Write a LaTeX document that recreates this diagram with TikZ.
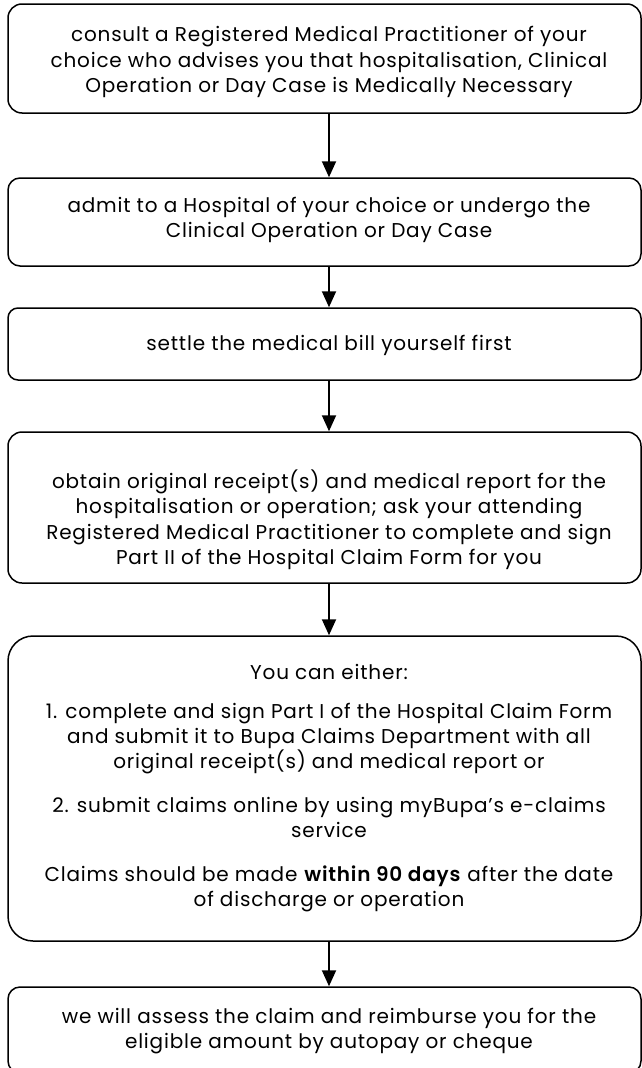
\documentclass[tikz,border=0pt]{standalone}
\usepackage{fontspec}
\setmainfont{Poppins}[LetterSpace=4, BoldFont=* SemiBold]
\usetikzlibrary{arrows.meta}
\begin{document}
\begin{tikzpicture}[x=1pt,y=-1pt,
  stepbox/.style={draw=black, line width=1.5pt, fill=white, inner sep=0pt, minimum width=633pt},
  txt/.style={align=center, font=\fontsize{20}{25.5}\selectfont, inner sep=0pt},
  flow/.style={-{Triangle[width=14pt,length=16pt]}, line width=2pt}
]
\useasboundingbox (0,0) rectangle (642,1068);

% step boxes
\node[stepbox, rounded corners=14pt, minimum height=109pt] (b1) at (324.5,58.5) {};
\node[stepbox, rounded corners=12pt, minimum height=88pt]  (b2) at (324.5,222) {};
\node[stepbox, rounded corners=10pt, minimum height=72pt]  (b3) at (324.5,344) {};
\node[stepbox, rounded corners=14pt, minimum height=151pt] (b4) at (324.5,507.5) {};
\node[stepbox, rounded corners=25pt, minimum height=305pt] (b5) at (324.5,788.5) {};
\node[stepbox, rounded corners=12pt, minimum height=86pt]  (b6) at (324.5,1030) {};

% step texts
\node[txt] (t1) at (329,62) {consult a Registered Medical Practitioner of your\\
  choice who advises you that hospitalisation, Clinical\\
  Operation or Day Case is Medically Necessary};
\node[txt] (t2) at (329,220) {admit to a Hospital of your choice or undergo the\\
  Clinical Operation or Day Case};
\node[txt] (t3) at (329,345) {settle the medical bill yourself first};
\node[txt] (t4) at (329,520) {obtain original receipt(s) and medical report for the\\
  hospitalisation or operation; ask your attending\\
  Registered Medical Practitioner to complete and sign\\
  Part II of the Hospital Claim Form for you};
\node[txt, font=\fontsize{20}{25}\selectfont] (t5) at (329,788) {You can either:\\[14pt]
  1. complete and sign Part I of the Hospital Claim Form\\
  and submit it to Bupa Claims Department with all\\
  original receipt(s) and medical report or\\[19pt]
  2. submit claims online by using myBupa's e-claims\\
  service\\[19pt]
  Claims should be made \textbf{within 90 days} after the date\\
  of discharge or operation};
\node[txt] (t6) at (329,1031) {we will assess the claim and reimburse you for the\\
  eligible amount by autopay or cheque};

% connectors
\draw[flow] (b1.south -| t1) -- (b2.north -| t1);
\draw[flow] (b2.south -| t1) -- (b3.north -| t1);
\draw[flow] (b3.south -| t1) -- (b4.north -| t1);
\draw[flow] (b4.south -| t1) -- (b5.north -| t1);
\draw[flow] (b5.south -| t1) -- (b6.north -| t1);
\end{tikzpicture}
\end{document}
